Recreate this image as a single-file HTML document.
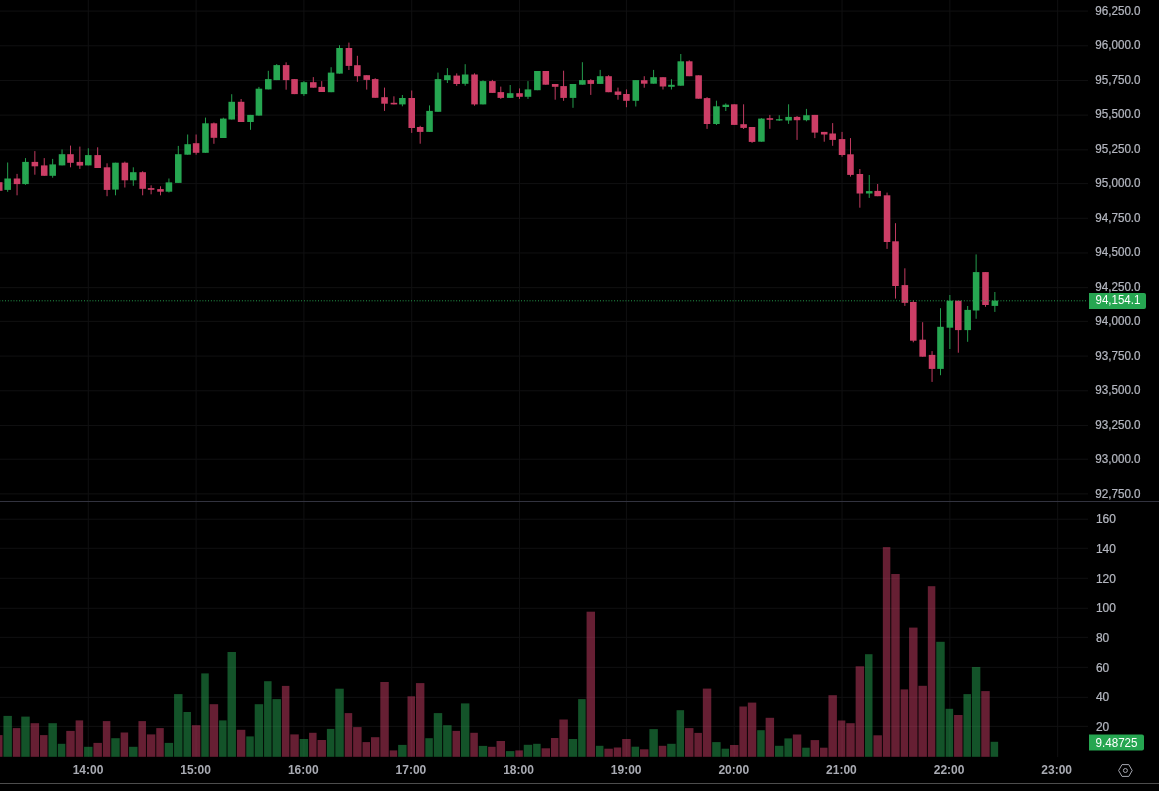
<!DOCTYPE html>
<html lang="en"><head><meta charset="utf-8"><title>Chart</title>
<style>html,body{margin:0;padding:0;background:#000;overflow:hidden}svg{display:block}text{font-family:"Liberation Sans",Arial,sans-serif}.ax{font-size:12.2px;fill:#b2b5be;stroke:#b2b5be;stroke-width:0.25px}.tm{font-size:12px;font-weight:bold;fill:#a9abb3}.lb{font-size:12.2px;fill:#fff}</style></head><body>
<svg width="1159" height="791" viewBox="0 0 1159 791">
<rect width="1159" height="791" fill="#000"/>
<g stroke="#111112" stroke-width="0.94">
<line x1="0" x2="1088" y1="11.08" y2="11.08"/>
<line x1="0" x2="1088" y1="45.77" y2="45.77"/>
<line x1="0" x2="1088" y1="80.46" y2="80.46"/>
<line x1="0" x2="1088" y1="115.14" y2="115.14"/>
<line x1="0" x2="1088" y1="149.83" y2="149.83"/>
<line x1="0" x2="1088" y1="183.58" y2="183.58"/>
<line x1="0" x2="1088" y1="218.27" y2="218.27"/>
<line x1="0" x2="1088" y1="252.96" y2="252.96"/>
<line x1="0" x2="1088" y1="287.64" y2="287.64"/>
<line x1="0" x2="1088" y1="321.39" y2="321.39"/>
<line x1="0" x2="1088" y1="356.08" y2="356.08"/>
<line x1="0" x2="1088" y1="390.77" y2="390.77"/>
<line x1="0" x2="1088" y1="425.46" y2="425.46"/>
<line x1="0" x2="1088" y1="459.21" y2="459.21"/>
<line x1="0" x2="1088" y1="493.89" y2="493.89"/>
<line x1="0" x2="1088" y1="726.39" y2="726.39"/>
<line x1="0" x2="1088" y1="697.33" y2="697.33"/>
<line x1="0" x2="1088" y1="667.33" y2="667.33"/>
<line x1="0" x2="1088" y1="637.33" y2="637.33"/>
<line x1="0" x2="1088" y1="608.27" y2="608.27"/>
<line x1="0" x2="1088" y1="578.27" y2="578.27"/>
<line x1="0" x2="1088" y1="548.27" y2="548.27"/>
<line x1="0" x2="1088" y1="519.21" y2="519.21"/>
</g>
<g stroke="#111112" stroke-width="0.94">
<line x1="88.29" x2="88.29" y1="0" y2="757"/>
<line x1="196.11" x2="196.11" y1="0" y2="757"/>
<line x1="303.92" x2="303.92" y1="0" y2="757"/>
<line x1="411.73" x2="411.73" y1="0" y2="757"/>
<line x1="519.54" x2="519.54" y1="0" y2="757"/>
<line x1="626.42" x2="626.42" y1="0" y2="757"/>
<line x1="734.23" x2="734.23" y1="0" y2="757"/>
<line x1="842.04" x2="842.04" y1="0" y2="757"/>
<line x1="949.86" x2="949.86" y1="0" y2="757"/>
<line x1="1057.67" x2="1057.67" y1="0" y2="757"/>
</g>
<rect x="0" y="501" width="1159" height="1" fill="#32333f"/>
<g>
<rect x="-4.99" y="735.1" width="7.50" height="21.7" fill="#cc3e66" fill-opacity="0.5"/>
<rect x="3.45" y="715.9" width="8.44" height="40.9" fill="#26a651" fill-opacity="0.5"/>
<rect x="12.82" y="728.1" width="7.50" height="28.7" fill="#cc3e66" fill-opacity="0.5"/>
<rect x="21.26" y="716.6" width="8.44" height="40.2" fill="#26a651" fill-opacity="0.5"/>
<rect x="30.64" y="723.2" width="8.44" height="33.6" fill="#cc3e66" fill-opacity="0.5"/>
<rect x="40.01" y="735.1" width="7.50" height="21.7" fill="#cc3e66" fill-opacity="0.5"/>
<rect x="48.45" y="723.2" width="8.44" height="33.6" fill="#26a651" fill-opacity="0.5"/>
<rect x="57.83" y="743.8" width="7.50" height="13.0" fill="#26a651" fill-opacity="0.5"/>
<rect x="66.26" y="730.9" width="8.44" height="25.9" fill="#cc3e66" fill-opacity="0.5"/>
<rect x="75.64" y="720.4" width="7.50" height="36.4" fill="#cc3e66" fill-opacity="0.5"/>
<rect x="84.08" y="746.8" width="8.44" height="10.0" fill="#26a651" fill-opacity="0.5"/>
<rect x="93.45" y="742.9" width="8.44" height="13.9" fill="#cc3e66" fill-opacity="0.5"/>
<rect x="102.83" y="721.1" width="7.50" height="35.7" fill="#cc3e66" fill-opacity="0.5"/>
<rect x="111.26" y="738.2" width="8.44" height="18.6" fill="#26a651" fill-opacity="0.5"/>
<rect x="120.64" y="732.5" width="7.50" height="24.3" fill="#cc3e66" fill-opacity="0.5"/>
<rect x="129.07" y="746.8" width="8.44" height="10.0" fill="#26a651" fill-opacity="0.5"/>
<rect x="138.45" y="721.1" width="7.50" height="35.7" fill="#cc3e66" fill-opacity="0.5"/>
<rect x="146.89" y="734.4" width="8.44" height="22.4" fill="#cc3e66" fill-opacity="0.5"/>
<rect x="156.26" y="728.1" width="7.50" height="28.7" fill="#cc3e66" fill-opacity="0.5"/>
<rect x="164.70" y="742.9" width="8.44" height="13.9" fill="#26a651" fill-opacity="0.5"/>
<rect x="174.07" y="694.1" width="8.44" height="62.7" fill="#26a651" fill-opacity="0.5"/>
<rect x="183.45" y="712.0" width="7.50" height="44.8" fill="#26a651" fill-opacity="0.5"/>
<rect x="191.89" y="725.2" width="8.44" height="31.6" fill="#cc3e66" fill-opacity="0.5"/>
<rect x="201.26" y="673.4" width="7.50" height="83.4" fill="#26a651" fill-opacity="0.5"/>
<rect x="209.70" y="704.2" width="8.44" height="52.6" fill="#cc3e66" fill-opacity="0.5"/>
<rect x="219.07" y="720.4" width="7.50" height="36.4" fill="#26a651" fill-opacity="0.5"/>
<rect x="227.51" y="652.0" width="8.44" height="104.8" fill="#26a651" fill-opacity="0.5"/>
<rect x="236.89" y="729.8" width="8.44" height="27.0" fill="#cc3e66" fill-opacity="0.5"/>
<rect x="246.26" y="736.4" width="7.50" height="20.4" fill="#26a651" fill-opacity="0.5"/>
<rect x="254.70" y="704.2" width="8.44" height="52.6" fill="#26a651" fill-opacity="0.5"/>
<rect x="264.07" y="681.2" width="7.50" height="75.6" fill="#26a651" fill-opacity="0.5"/>
<rect x="272.51" y="699.1" width="8.44" height="57.7" fill="#26a651" fill-opacity="0.5"/>
<rect x="281.89" y="685.9" width="7.50" height="70.9" fill="#cc3e66" fill-opacity="0.5"/>
<rect x="290.32" y="734.4" width="8.44" height="22.4" fill="#cc3e66" fill-opacity="0.5"/>
<rect x="299.70" y="739.0" width="8.44" height="17.8" fill="#26a651" fill-opacity="0.5"/>
<rect x="309.07" y="732.8" width="7.50" height="24.0" fill="#cc3e66" fill-opacity="0.5"/>
<rect x="317.51" y="740.0" width="8.44" height="16.8" fill="#cc3e66" fill-opacity="0.5"/>
<rect x="326.89" y="728.9" width="7.50" height="27.9" fill="#26a651" fill-opacity="0.5"/>
<rect x="335.32" y="688.7" width="8.44" height="68.1" fill="#26a651" fill-opacity="0.5"/>
<rect x="344.70" y="713.1" width="7.50" height="43.7" fill="#cc3e66" fill-opacity="0.5"/>
<rect x="353.14" y="727.1" width="8.44" height="29.7" fill="#cc3e66" fill-opacity="0.5"/>
<rect x="362.51" y="742.1" width="7.50" height="14.7" fill="#cc3e66" fill-opacity="0.5"/>
<rect x="370.95" y="737.2" width="8.44" height="19.6" fill="#cc3e66" fill-opacity="0.5"/>
<rect x="380.32" y="682.0" width="8.44" height="74.8" fill="#cc3e66" fill-opacity="0.5"/>
<rect x="389.70" y="750.4" width="7.50" height="6.4" fill="#cc3e66" fill-opacity="0.5"/>
<rect x="398.14" y="744.9" width="8.44" height="11.9" fill="#26a651" fill-opacity="0.5"/>
<rect x="407.51" y="696.3" width="7.50" height="60.5" fill="#cc3e66" fill-opacity="0.5"/>
<rect x="415.95" y="683.1" width="8.44" height="73.7" fill="#cc3e66" fill-opacity="0.5"/>
<rect x="425.32" y="738.2" width="7.50" height="18.6" fill="#26a651" fill-opacity="0.5"/>
<rect x="433.76" y="713.1" width="8.44" height="43.7" fill="#26a651" fill-opacity="0.5"/>
<rect x="443.14" y="725.2" width="8.44" height="31.6" fill="#26a651" fill-opacity="0.5"/>
<rect x="452.51" y="730.9" width="7.50" height="25.9" fill="#cc3e66" fill-opacity="0.5"/>
<rect x="460.95" y="703.4" width="8.44" height="53.4" fill="#26a651" fill-opacity="0.5"/>
<rect x="470.32" y="732.8" width="7.50" height="24.0" fill="#cc3e66" fill-opacity="0.5"/>
<rect x="478.76" y="745.9" width="8.44" height="10.9" fill="#26a651" fill-opacity="0.5"/>
<rect x="488.14" y="746.8" width="7.50" height="10.0" fill="#cc3e66" fill-opacity="0.5"/>
<rect x="496.57" y="741.0" width="8.44" height="15.8" fill="#cc3e66" fill-opacity="0.5"/>
<rect x="505.95" y="751.1" width="8.44" height="5.7" fill="#26a651" fill-opacity="0.5"/>
<rect x="515.33" y="750.4" width="7.50" height="6.4" fill="#cc3e66" fill-opacity="0.5"/>
<rect x="523.76" y="744.8" width="8.44" height="12.0" fill="#26a651" fill-opacity="0.5"/>
<rect x="533.14" y="743.8" width="7.50" height="13.0" fill="#26a651" fill-opacity="0.5"/>
<rect x="541.58" y="748.3" width="8.44" height="8.5" fill="#cc3e66" fill-opacity="0.5"/>
<rect x="550.95" y="738.0" width="7.50" height="18.8" fill="#cc3e66" fill-opacity="0.5"/>
<rect x="559.39" y="719.5" width="8.44" height="37.3" fill="#cc3e66" fill-opacity="0.5"/>
<rect x="568.76" y="739.0" width="8.44" height="17.8" fill="#26a651" fill-opacity="0.5"/>
<rect x="578.14" y="699.1" width="7.50" height="57.7" fill="#26a651" fill-opacity="0.5"/>
<rect x="586.58" y="611.7" width="8.44" height="145.1" fill="#cc3e66" fill-opacity="0.5"/>
<rect x="595.95" y="745.8" width="7.50" height="11.0" fill="#26a651" fill-opacity="0.5"/>
<rect x="604.39" y="748.7" width="8.44" height="8.1" fill="#cc3e66" fill-opacity="0.5"/>
<rect x="613.76" y="747.5" width="7.50" height="9.3" fill="#cc3e66" fill-opacity="0.5"/>
<rect x="622.20" y="739.0" width="8.44" height="17.8" fill="#cc3e66" fill-opacity="0.5"/>
<rect x="631.58" y="746.7" width="7.50" height="10.1" fill="#26a651" fill-opacity="0.5"/>
<rect x="640.01" y="749.3" width="8.44" height="7.5" fill="#cc3e66" fill-opacity="0.5"/>
<rect x="649.39" y="729.1" width="8.44" height="27.7" fill="#26a651" fill-opacity="0.5"/>
<rect x="658.76" y="745.8" width="7.50" height="11.0" fill="#cc3e66" fill-opacity="0.5"/>
<rect x="667.20" y="743.8" width="8.44" height="13.0" fill="#26a651" fill-opacity="0.5"/>
<rect x="676.58" y="710.2" width="7.50" height="46.6" fill="#26a651" fill-opacity="0.5"/>
<rect x="685.01" y="728.1" width="8.44" height="28.7" fill="#cc3e66" fill-opacity="0.5"/>
<rect x="694.39" y="732.9" width="7.50" height="23.9" fill="#cc3e66" fill-opacity="0.5"/>
<rect x="702.83" y="688.6" width="8.44" height="68.2" fill="#cc3e66" fill-opacity="0.5"/>
<rect x="712.20" y="742.1" width="8.44" height="14.7" fill="#26a651" fill-opacity="0.5"/>
<rect x="721.58" y="748.7" width="7.50" height="8.1" fill="#26a651" fill-opacity="0.5"/>
<rect x="730.01" y="745.0" width="8.44" height="11.8" fill="#cc3e66" fill-opacity="0.5"/>
<rect x="739.39" y="706.5" width="7.50" height="50.3" fill="#cc3e66" fill-opacity="0.5"/>
<rect x="747.83" y="702.6" width="8.44" height="54.2" fill="#cc3e66" fill-opacity="0.5"/>
<rect x="757.20" y="730.2" width="7.50" height="26.6" fill="#26a651" fill-opacity="0.5"/>
<rect x="765.64" y="717.8" width="8.44" height="39.0" fill="#cc3e66" fill-opacity="0.5"/>
<rect x="775.01" y="745.8" width="8.44" height="11.0" fill="#26a651" fill-opacity="0.5"/>
<rect x="784.39" y="738.4" width="7.50" height="18.4" fill="#26a651" fill-opacity="0.5"/>
<rect x="792.83" y="734.5" width="8.44" height="22.3" fill="#cc3e66" fill-opacity="0.5"/>
<rect x="802.20" y="747.7" width="7.50" height="9.1" fill="#26a651" fill-opacity="0.5"/>
<rect x="810.64" y="740.1" width="8.44" height="16.7" fill="#cc3e66" fill-opacity="0.5"/>
<rect x="820.01" y="747.7" width="7.50" height="9.1" fill="#cc3e66" fill-opacity="0.5"/>
<rect x="828.45" y="695.2" width="8.44" height="61.6" fill="#cc3e66" fill-opacity="0.5"/>
<rect x="837.83" y="720.5" width="7.50" height="36.3" fill="#cc3e66" fill-opacity="0.5"/>
<rect x="846.26" y="723.2" width="8.44" height="33.6" fill="#cc3e66" fill-opacity="0.5"/>
<rect x="855.64" y="666.3" width="8.44" height="90.5" fill="#cc3e66" fill-opacity="0.5"/>
<rect x="865.01" y="654.2" width="7.50" height="102.6" fill="#26a651" fill-opacity="0.5"/>
<rect x="873.45" y="735.3" width="8.44" height="21.5" fill="#cc3e66" fill-opacity="0.5"/>
<rect x="882.83" y="547.1" width="7.50" height="209.7" fill="#cc3e66" fill-opacity="0.5"/>
<rect x="891.26" y="574.0" width="8.44" height="182.8" fill="#cc3e66" fill-opacity="0.5"/>
<rect x="900.64" y="689.4" width="7.50" height="67.4" fill="#cc3e66" fill-opacity="0.5"/>
<rect x="909.08" y="627.6" width="8.44" height="129.2" fill="#cc3e66" fill-opacity="0.5"/>
<rect x="918.45" y="685.8" width="8.44" height="71.0" fill="#cc3e66" fill-opacity="0.5"/>
<rect x="927.83" y="586.2" width="7.50" height="170.6" fill="#cc3e66" fill-opacity="0.5"/>
<rect x="936.26" y="641.8" width="8.44" height="115.0" fill="#26a651" fill-opacity="0.5"/>
<rect x="945.64" y="708.8" width="7.50" height="48.0" fill="#26a651" fill-opacity="0.5"/>
<rect x="954.08" y="715.0" width="8.44" height="41.8" fill="#cc3e66" fill-opacity="0.5"/>
<rect x="963.45" y="694.1" width="7.50" height="62.7" fill="#26a651" fill-opacity="0.5"/>
<rect x="971.89" y="667.0" width="8.44" height="89.8" fill="#26a651" fill-opacity="0.5"/>
<rect x="981.26" y="691.1" width="8.44" height="65.7" fill="#cc3e66" fill-opacity="0.5"/>
<rect x="990.64" y="741.8" width="7.50" height="15.0" fill="#26a651" fill-opacity="0.5"/>
</g>
<g>
<rect x="-1.24" y="182.2" width="0.94" height="8.6" fill="#cc3e66"/>
<rect x="-4.05" y="182.2" width="6.56" height="8.6" fill="#cc3e66"/>
<rect x="7.20" y="162.5" width="0.94" height="29.3" fill="#26a651"/>
<rect x="4.39" y="178.5" width="6.56" height="11.4" fill="#26a651"/>
<rect x="16.57" y="173.9" width="0.94" height="21.4" fill="#cc3e66"/>
<rect x="13.76" y="178.5" width="6.56" height="5.6" fill="#cc3e66"/>
<rect x="25.01" y="158.1" width="0.94" height="26.7" fill="#26a651"/>
<rect x="22.20" y="161.9" width="6.56" height="22.2" fill="#26a651"/>
<rect x="34.39" y="151.1" width="0.94" height="23.6" fill="#cc3e66"/>
<rect x="31.58" y="161.9" width="6.56" height="4.4" fill="#cc3e66"/>
<rect x="43.76" y="158.1" width="0.94" height="17.7" fill="#cc3e66"/>
<rect x="40.95" y="165.4" width="6.56" height="10.4" fill="#cc3e66"/>
<rect x="52.20" y="158.9" width="0.94" height="18.8" fill="#26a651"/>
<rect x="49.39" y="164.4" width="6.56" height="11.4" fill="#26a651"/>
<rect x="61.57" y="149.4" width="0.94" height="16.0" fill="#26a651"/>
<rect x="58.76" y="154.2" width="6.56" height="11.2" fill="#26a651"/>
<rect x="70.01" y="145.6" width="0.94" height="21.7" fill="#cc3e66"/>
<rect x="67.20" y="154.2" width="6.56" height="8.6" fill="#cc3e66"/>
<rect x="79.39" y="146.6" width="0.94" height="22.3" fill="#cc3e66"/>
<rect x="76.58" y="161.9" width="6.56" height="3.7" fill="#cc3e66"/>
<rect x="87.82" y="148.3" width="0.94" height="17.1" fill="#26a651"/>
<rect x="85.01" y="155.1" width="6.56" height="10.3" fill="#26a651"/>
<rect x="97.20" y="147.3" width="0.94" height="20.7" fill="#cc3e66"/>
<rect x="94.39" y="155.1" width="6.56" height="12.9" fill="#cc3e66"/>
<rect x="106.57" y="163.3" width="0.94" height="32.9" fill="#cc3e66"/>
<rect x="103.76" y="167.3" width="6.56" height="22.6" fill="#cc3e66"/>
<rect x="115.01" y="162.7" width="0.94" height="32.6" fill="#26a651"/>
<rect x="112.20" y="162.7" width="6.56" height="26.9" fill="#26a651"/>
<rect x="124.39" y="161.6" width="0.94" height="25.9" fill="#cc3e66"/>
<rect x="121.58" y="162.7" width="6.56" height="17.6" fill="#cc3e66"/>
<rect x="132.82" y="167.3" width="0.94" height="18.5" fill="#26a651"/>
<rect x="130.01" y="172.2" width="6.56" height="8.1" fill="#26a651"/>
<rect x="142.20" y="171.2" width="0.94" height="24.1" fill="#cc3e66"/>
<rect x="139.39" y="172.2" width="6.56" height="16.6" fill="#cc3e66"/>
<rect x="150.64" y="185.3" width="0.94" height="9.0" fill="#cc3e66"/>
<rect x="147.83" y="188.1" width="6.56" height="1.7" fill="#cc3e66"/>
<rect x="160.01" y="186.3" width="0.94" height="9.0" fill="#cc3e66"/>
<rect x="157.20" y="189.1" width="6.56" height="2.6" fill="#cc3e66"/>
<rect x="168.45" y="178.5" width="0.94" height="14.0" fill="#26a651"/>
<rect x="165.64" y="182.4" width="6.56" height="9.3" fill="#26a651"/>
<rect x="177.82" y="145.9" width="0.94" height="37.0" fill="#26a651"/>
<rect x="175.01" y="154.2" width="6.56" height="28.7" fill="#26a651"/>
<rect x="187.20" y="134.5" width="0.94" height="20.2" fill="#26a651"/>
<rect x="184.39" y="144.2" width="6.56" height="10.5" fill="#26a651"/>
<rect x="195.64" y="134.5" width="0.94" height="20.2" fill="#cc3e66"/>
<rect x="192.83" y="143.2" width="6.56" height="9.6" fill="#cc3e66"/>
<rect x="205.01" y="117.6" width="0.94" height="35.2" fill="#26a651"/>
<rect x="202.20" y="123.3" width="6.56" height="29.5" fill="#26a651"/>
<rect x="213.45" y="122.5" width="0.94" height="21.3" fill="#cc3e66"/>
<rect x="210.64" y="123.3" width="6.56" height="14.5" fill="#cc3e66"/>
<rect x="222.82" y="117.7" width="0.94" height="20.3" fill="#26a651"/>
<rect x="220.01" y="118.6" width="6.56" height="19.4" fill="#26a651"/>
<rect x="231.26" y="94.2" width="0.94" height="25.3" fill="#26a651"/>
<rect x="228.45" y="101.8" width="6.56" height="17.7" fill="#26a651"/>
<rect x="240.64" y="99.0" width="0.94" height="23.0" fill="#cc3e66"/>
<rect x="237.83" y="101.8" width="6.56" height="20.2" fill="#cc3e66"/>
<rect x="250.01" y="114.9" width="0.94" height="14.9" fill="#26a651"/>
<rect x="247.20" y="114.9" width="6.56" height="7.1" fill="#26a651"/>
<rect x="258.45" y="86.9" width="0.94" height="28.7" fill="#26a651"/>
<rect x="255.64" y="88.7" width="6.56" height="26.9" fill="#26a651"/>
<rect x="267.82" y="70.8" width="0.94" height="18.6" fill="#26a651"/>
<rect x="265.01" y="79.1" width="6.56" height="10.3" fill="#26a651"/>
<rect x="276.26" y="64.1" width="0.94" height="16.0" fill="#26a651"/>
<rect x="273.45" y="65.1" width="6.56" height="15.0" fill="#26a651"/>
<rect x="285.64" y="62.3" width="0.94" height="27.4" fill="#cc3e66"/>
<rect x="282.83" y="65.1" width="6.56" height="15.0" fill="#cc3e66"/>
<rect x="294.07" y="79.1" width="0.94" height="15.0" fill="#cc3e66"/>
<rect x="291.26" y="79.1" width="6.56" height="15.0" fill="#cc3e66"/>
<rect x="303.45" y="81.1" width="0.94" height="14.8" fill="#26a651"/>
<rect x="300.64" y="82.2" width="6.56" height="11.9" fill="#26a651"/>
<rect x="312.82" y="77.1" width="0.94" height="10.6" fill="#cc3e66"/>
<rect x="310.01" y="82.2" width="6.56" height="5.5" fill="#cc3e66"/>
<rect x="321.26" y="81.1" width="0.94" height="10.9" fill="#cc3e66"/>
<rect x="318.45" y="86.9" width="6.56" height="5.1" fill="#cc3e66"/>
<rect x="330.64" y="67.2" width="0.94" height="25.0" fill="#26a651"/>
<rect x="327.83" y="72.6" width="6.56" height="19.6" fill="#26a651"/>
<rect x="339.07" y="45.2" width="0.94" height="28.4" fill="#26a651"/>
<rect x="336.26" y="48.0" width="6.56" height="25.6" fill="#26a651"/>
<rect x="348.45" y="42.6" width="0.94" height="27.4" fill="#cc3e66"/>
<rect x="345.64" y="48.0" width="6.56" height="17.9" fill="#cc3e66"/>
<rect x="356.89" y="55.8" width="0.94" height="26.0" fill="#cc3e66"/>
<rect x="354.08" y="65.2" width="6.56" height="11.0" fill="#cc3e66"/>
<rect x="366.26" y="75.2" width="0.94" height="14.4" fill="#cc3e66"/>
<rect x="363.45" y="75.2" width="6.56" height="4.7" fill="#cc3e66"/>
<rect x="374.70" y="78.2" width="0.94" height="19.6" fill="#cc3e66"/>
<rect x="371.89" y="79.1" width="6.56" height="18.7" fill="#cc3e66"/>
<rect x="384.07" y="87.6" width="0.94" height="23.3" fill="#cc3e66"/>
<rect x="381.26" y="97.2" width="6.56" height="6.5" fill="#cc3e66"/>
<rect x="393.45" y="96.3" width="0.94" height="8.1" fill="#cc3e66"/>
<rect x="390.64" y="102.8" width="6.56" height="1.6" fill="#cc3e66"/>
<rect x="401.89" y="95.0" width="0.94" height="11.3" fill="#26a651"/>
<rect x="399.08" y="98.0" width="6.56" height="6.4" fill="#26a651"/>
<rect x="411.26" y="90.5" width="0.94" height="42.4" fill="#cc3e66"/>
<rect x="408.45" y="98.0" width="6.56" height="30.0" fill="#cc3e66"/>
<rect x="419.70" y="125.8" width="0.94" height="17.9" fill="#cc3e66"/>
<rect x="416.89" y="127.0" width="6.56" height="4.9" fill="#cc3e66"/>
<rect x="429.07" y="105.4" width="0.94" height="26.5" fill="#26a651"/>
<rect x="426.26" y="110.9" width="6.56" height="21.0" fill="#26a651"/>
<rect x="437.51" y="72.6" width="0.94" height="39.2" fill="#26a651"/>
<rect x="434.70" y="79.1" width="6.56" height="32.7" fill="#26a651"/>
<rect x="446.89" y="68.1" width="0.94" height="14.9" fill="#26a651"/>
<rect x="444.08" y="75.2" width="6.56" height="4.9" fill="#26a651"/>
<rect x="456.26" y="73.4" width="0.94" height="12.5" fill="#cc3e66"/>
<rect x="453.45" y="75.6" width="6.56" height="8.4" fill="#cc3e66"/>
<rect x="464.70" y="64.2" width="0.94" height="21.5" fill="#26a651"/>
<rect x="461.89" y="74.5" width="6.56" height="9.3" fill="#26a651"/>
<rect x="474.07" y="73.3" width="0.94" height="32.4" fill="#cc3e66"/>
<rect x="471.26" y="74.5" width="6.56" height="29.9" fill="#cc3e66"/>
<rect x="482.51" y="80.3" width="0.94" height="24.1" fill="#26a651"/>
<rect x="479.70" y="81.1" width="6.56" height="23.3" fill="#26a651"/>
<rect x="491.89" y="79.9" width="0.94" height="13.0" fill="#cc3e66"/>
<rect x="489.08" y="81.1" width="6.56" height="11.8" fill="#cc3e66"/>
<rect x="500.32" y="86.6" width="0.94" height="12.3" fill="#cc3e66"/>
<rect x="497.51" y="92.1" width="6.56" height="5.8" fill="#cc3e66"/>
<rect x="509.70" y="85.0" width="0.94" height="12.9" fill="#26a651"/>
<rect x="506.89" y="93.2" width="6.56" height="4.7" fill="#26a651"/>
<rect x="519.07" y="88.4" width="0.94" height="10.5" fill="#cc3e66"/>
<rect x="516.26" y="93.2" width="6.56" height="3.6" fill="#cc3e66"/>
<rect x="527.51" y="81.1" width="0.94" height="17.8" fill="#26a651"/>
<rect x="524.70" y="89.4" width="6.56" height="7.4" fill="#26a651"/>
<rect x="536.89" y="71.0" width="0.94" height="19.2" fill="#26a651"/>
<rect x="534.08" y="71.0" width="6.56" height="19.2" fill="#26a651"/>
<rect x="545.32" y="71.0" width="0.94" height="13.7" fill="#cc3e66"/>
<rect x="542.51" y="71.0" width="6.56" height="13.7" fill="#cc3e66"/>
<rect x="554.70" y="84.0" width="0.94" height="15.7" fill="#cc3e66"/>
<rect x="551.89" y="84.0" width="6.56" height="2.8" fill="#cc3e66"/>
<rect x="563.14" y="70.7" width="0.94" height="30.1" fill="#cc3e66"/>
<rect x="560.33" y="86.1" width="6.56" height="11.8" fill="#cc3e66"/>
<rect x="572.51" y="84.0" width="0.94" height="23.8" fill="#26a651"/>
<rect x="569.70" y="84.0" width="6.56" height="13.9" fill="#26a651"/>
<rect x="581.89" y="62.2" width="0.94" height="22.5" fill="#26a651"/>
<rect x="579.08" y="80.1" width="6.56" height="4.6" fill="#26a651"/>
<rect x="590.32" y="79.2" width="0.94" height="15.7" fill="#cc3e66"/>
<rect x="587.51" y="80.1" width="6.56" height="3.8" fill="#cc3e66"/>
<rect x="599.70" y="69.9" width="0.94" height="14.0" fill="#26a651"/>
<rect x="596.89" y="76.2" width="6.56" height="7.7" fill="#26a651"/>
<rect x="608.14" y="75.2" width="0.94" height="17.0" fill="#cc3e66"/>
<rect x="605.33" y="76.2" width="6.56" height="16.0" fill="#cc3e66"/>
<rect x="617.51" y="87.6" width="0.94" height="12.1" fill="#cc3e66"/>
<rect x="614.70" y="91.5" width="6.56" height="3.4" fill="#cc3e66"/>
<rect x="625.95" y="89.4" width="0.94" height="17.8" fill="#cc3e66"/>
<rect x="623.14" y="94.0" width="6.56" height="6.8" fill="#cc3e66"/>
<rect x="635.32" y="80.1" width="0.94" height="26.4" fill="#26a651"/>
<rect x="632.51" y="80.1" width="6.56" height="20.7" fill="#26a651"/>
<rect x="643.76" y="76.2" width="0.94" height="11.5" fill="#cc3e66"/>
<rect x="640.95" y="80.2" width="6.56" height="3.5" fill="#cc3e66"/>
<rect x="653.14" y="69.9" width="0.94" height="13.8" fill="#26a651"/>
<rect x="650.33" y="77.2" width="6.56" height="6.5" fill="#26a651"/>
<rect x="662.51" y="77.2" width="0.94" height="12.3" fill="#cc3e66"/>
<rect x="659.70" y="77.2" width="6.56" height="9.3" fill="#cc3e66"/>
<rect x="670.95" y="79.2" width="0.94" height="10.3" fill="#26a651"/>
<rect x="668.14" y="84.8" width="6.56" height="2.0" fill="#26a651"/>
<rect x="680.32" y="54.0" width="0.94" height="31.7" fill="#26a651"/>
<rect x="677.51" y="61.3" width="6.56" height="24.4" fill="#26a651"/>
<rect x="688.76" y="60.3" width="0.94" height="15.9" fill="#cc3e66"/>
<rect x="685.95" y="61.3" width="6.56" height="14.9" fill="#cc3e66"/>
<rect x="698.14" y="75.3" width="0.94" height="23.4" fill="#cc3e66"/>
<rect x="695.33" y="75.3" width="6.56" height="23.4" fill="#cc3e66"/>
<rect x="706.57" y="97.1" width="0.94" height="31.8" fill="#cc3e66"/>
<rect x="703.76" y="98.1" width="6.56" height="25.9" fill="#cc3e66"/>
<rect x="715.95" y="100.7" width="0.94" height="24.3" fill="#26a651"/>
<rect x="713.14" y="106.3" width="6.56" height="17.7" fill="#26a651"/>
<rect x="725.32" y="103.4" width="0.94" height="7.6" fill="#26a651"/>
<rect x="722.51" y="104.7" width="6.56" height="2.3" fill="#26a651"/>
<rect x="733.76" y="104.3" width="0.94" height="20.6" fill="#cc3e66"/>
<rect x="730.95" y="104.3" width="6.56" height="20.6" fill="#cc3e66"/>
<rect x="743.14" y="104.3" width="0.94" height="24.7" fill="#cc3e66"/>
<rect x="740.33" y="124.2" width="6.56" height="3.7" fill="#cc3e66"/>
<rect x="751.57" y="127.0" width="0.94" height="15.9" fill="#cc3e66"/>
<rect x="748.76" y="127.0" width="6.56" height="14.9" fill="#cc3e66"/>
<rect x="760.95" y="118.2" width="0.94" height="23.5" fill="#26a651"/>
<rect x="758.14" y="118.6" width="6.56" height="23.1" fill="#26a651"/>
<rect x="769.39" y="114.9" width="0.94" height="13.9" fill="#cc3e66"/>
<rect x="766.58" y="118.2" width="6.56" height="1.6" fill="#cc3e66"/>
<rect x="778.76" y="115.2" width="0.94" height="5.7" fill="#26a651"/>
<rect x="775.95" y="119.2" width="6.56" height="1.3" fill="#26a651"/>
<rect x="788.14" y="104.3" width="0.94" height="19.6" fill="#26a651"/>
<rect x="785.33" y="116.9" width="6.56" height="3.6" fill="#26a651"/>
<rect x="796.57" y="116.0" width="0.94" height="23.9" fill="#cc3e66"/>
<rect x="793.76" y="116.9" width="6.56" height="3.3" fill="#cc3e66"/>
<rect x="805.95" y="108.9" width="0.94" height="12.4" fill="#26a651"/>
<rect x="803.14" y="115.2" width="6.56" height="5.0" fill="#26a651"/>
<rect x="814.39" y="114.9" width="0.94" height="23.2" fill="#cc3e66"/>
<rect x="811.58" y="114.9" width="6.56" height="17.7" fill="#cc3e66"/>
<rect x="823.76" y="131.9" width="0.94" height="9.8" fill="#cc3e66"/>
<rect x="820.95" y="131.9" width="6.56" height="2.6" fill="#cc3e66"/>
<rect x="832.20" y="123.1" width="0.94" height="22.7" fill="#cc3e66"/>
<rect x="829.39" y="133.5" width="6.56" height="6.4" fill="#cc3e66"/>
<rect x="841.57" y="131.9" width="0.94" height="24.8" fill="#cc3e66"/>
<rect x="838.76" y="139.1" width="6.56" height="15.9" fill="#cc3e66"/>
<rect x="850.01" y="138.1" width="0.94" height="38.5" fill="#cc3e66"/>
<rect x="847.20" y="154.3" width="6.56" height="20.6" fill="#cc3e66"/>
<rect x="859.39" y="169.0" width="0.94" height="38.7" fill="#cc3e66"/>
<rect x="856.58" y="174.0" width="6.56" height="19.5" fill="#cc3e66"/>
<rect x="868.76" y="175.0" width="0.94" height="22.9" fill="#26a651"/>
<rect x="865.95" y="191.1" width="6.56" height="2.4" fill="#26a651"/>
<rect x="877.20" y="184.0" width="0.94" height="12.2" fill="#cc3e66"/>
<rect x="874.39" y="190.9" width="6.56" height="5.3" fill="#cc3e66"/>
<rect x="886.57" y="192.6" width="0.94" height="56.3" fill="#cc3e66"/>
<rect x="883.76" y="195.3" width="6.56" height="46.7" fill="#cc3e66"/>
<rect x="895.01" y="223.2" width="0.94" height="75.4" fill="#cc3e66"/>
<rect x="892.20" y="241.3" width="6.56" height="44.7" fill="#cc3e66"/>
<rect x="904.39" y="268.3" width="0.94" height="37.6" fill="#cc3e66"/>
<rect x="901.58" y="285.1" width="6.56" height="17.7" fill="#cc3e66"/>
<rect x="912.82" y="300.3" width="0.94" height="42.0" fill="#cc3e66"/>
<rect x="910.01" y="302.0" width="6.56" height="38.7" fill="#cc3e66"/>
<rect x="922.20" y="322.2" width="0.94" height="34.5" fill="#cc3e66"/>
<rect x="919.39" y="339.7" width="6.56" height="17.0" fill="#cc3e66"/>
<rect x="931.57" y="351.1" width="0.94" height="30.8" fill="#cc3e66"/>
<rect x="928.76" y="354.9" width="6.56" height="14.0" fill="#cc3e66"/>
<rect x="940.01" y="308.2" width="0.94" height="67.0" fill="#26a651"/>
<rect x="937.20" y="326.8" width="6.56" height="42.1" fill="#26a651"/>
<rect x="949.39" y="295.0" width="0.94" height="54.0" fill="#26a651"/>
<rect x="946.58" y="300.7" width="6.56" height="27.0" fill="#26a651"/>
<rect x="957.82" y="300.7" width="0.94" height="52.0" fill="#cc3e66"/>
<rect x="955.01" y="300.7" width="6.56" height="29.4" fill="#cc3e66"/>
<rect x="967.20" y="306.0" width="0.94" height="35.8" fill="#26a651"/>
<rect x="964.39" y="309.9" width="6.56" height="20.2" fill="#26a651"/>
<rect x="975.64" y="254.4" width="0.94" height="64.4" fill="#26a651"/>
<rect x="972.83" y="272.1" width="6.56" height="38.4" fill="#26a651"/>
<rect x="985.01" y="272.1" width="0.94" height="34.7" fill="#cc3e66"/>
<rect x="982.20" y="272.1" width="6.56" height="32.9" fill="#cc3e66"/>
<rect x="994.39" y="292.0" width="0.94" height="19.9" fill="#26a651"/>
<rect x="991.58" y="300.6" width="6.56" height="5.3" fill="#26a651"/>
</g>
<line x1="-0.6" x2="1086.3" y1="300.8" y2="300.8" stroke="#26a651" stroke-width="1" stroke-dasharray="0.94 1.88"/>
<text class="ax" transform="translate(1095.3 14.5) scale(0.955 1)">96,250.0</text>
<text class="ax" transform="translate(1095.3 49.0) scale(0.955 1)">96,000.0</text>
<text class="ax" transform="translate(1095.3 83.5) scale(0.955 1)">95,750.0</text>
<text class="ax" transform="translate(1095.3 118.0) scale(0.955 1)">95,500.0</text>
<text class="ax" transform="translate(1095.3 152.5) scale(0.955 1)">95,250.0</text>
<text class="ax" transform="translate(1095.3 187.0) scale(0.955 1)">95,000.0</text>
<text class="ax" transform="translate(1095.3 221.5) scale(0.955 1)">94,750.0</text>
<text class="ax" transform="translate(1095.3 256.0) scale(0.955 1)">94,500.0</text>
<text class="ax" transform="translate(1095.3 290.5) scale(0.955 1)">94,250.0</text>
<text class="ax" transform="translate(1095.3 325.0) scale(0.955 1)">94,000.0</text>
<text class="ax" transform="translate(1095.3 359.5) scale(0.955 1)">93,750.0</text>
<text class="ax" transform="translate(1095.3 394.0) scale(0.955 1)">93,500.0</text>
<text class="ax" transform="translate(1095.3 428.5) scale(0.955 1)">93,250.0</text>
<text class="ax" transform="translate(1095.3 463.0) scale(0.955 1)">93,000.0</text>
<text class="ax" transform="translate(1095.3 497.5) scale(0.955 1)">92,750.0</text>
<text class="ax" transform="translate(1095.9 730.7) scale(0.98 1)">20</text>
<text class="ax" transform="translate(1095.9 701.1) scale(0.98 1)">40</text>
<text class="ax" transform="translate(1095.9 671.5) scale(0.98 1)">60</text>
<text class="ax" transform="translate(1095.9 641.8) scale(0.98 1)">80</text>
<text class="ax" transform="translate(1095.9 612.2) scale(0.98 1)">100</text>
<text class="ax" transform="translate(1095.9 582.6) scale(0.98 1)">120</text>
<text class="ax" transform="translate(1095.9 553.0) scale(0.98 1)">140</text>
<text class="ax" transform="translate(1095.9 523.4) scale(0.98 1)">160</text>
<path d="M1089 293h55a2 2 0 0 1 2 2v12a2 2 0 0 1 -2 2h-55z" fill="#26a651"/>
<text class="lb" transform="translate(1095.5 304.1) scale(0.945 1)">94,154.1</text>
<path d="M1089 734.5h53a2 2 0 0 1 2 2v12a2 2 0 0 1 -2 2h-53z" fill="#26a651"/>
<text class="lb" transform="translate(1095.5 746.6) scale(0.955 1)">9.48725</text>
<text class="tm" x="88.0" y="773.8" text-anchor="middle">14:00</text>
<text class="tm" x="195.6" y="773.8" text-anchor="middle">15:00</text>
<text class="tm" x="303.3" y="773.8" text-anchor="middle">16:00</text>
<text class="tm" x="410.9" y="773.8" text-anchor="middle">17:00</text>
<text class="tm" x="518.5" y="773.8" text-anchor="middle">18:00</text>
<text class="tm" x="626.2" y="773.8" text-anchor="middle">19:00</text>
<text class="tm" x="733.8" y="773.8" text-anchor="middle">20:00</text>
<text class="tm" x="841.4" y="773.8" text-anchor="middle">21:00</text>
<text class="tm" x="949.1" y="773.8" text-anchor="middle">22:00</text>
<text class="tm" x="1056.7" y="773.8" text-anchor="middle">23:00</text>
<rect x="0" y="783" width="1159" height="1" fill="#4d4d4d"/>
<g fill="none" stroke="#a4a6af" stroke-width="1"><path d="M1118.6 770.5l3.4-5.9h6.8l3.4 5.9-3.4 5.9h-6.8z"/><circle cx="1125.4" cy="770.5" r="2"/></g>
</svg></body></html>
